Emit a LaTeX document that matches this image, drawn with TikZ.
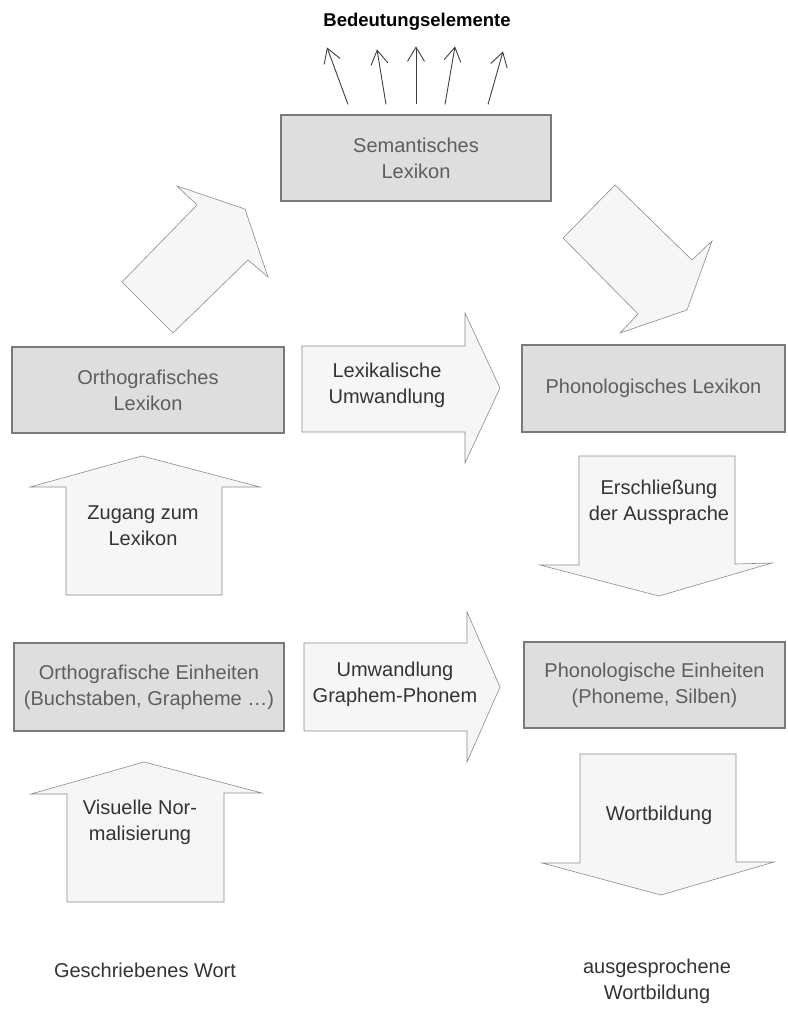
\documentclass[tikz,border=0pt]{standalone}
\usepackage{fontspec}
\setmainfont{Liberation Sans}
\usepackage{tikz}
\usetikzlibrary{arrows.meta,calc}
\definecolor{boxfill}{HTML}{DEDEDE}
\definecolor{boxline}{HTML}{7A7A7A}
\definecolor{boxtext}{HTML}{5E5E5E}
\definecolor{arrfill}{HTML}{F6F6F6}
\definecolor{arrline}{HTML}{8C8C8C}
\tikzset{box/.style={draw=boxline,line width=1.1pt,fill=boxfill,align=center,inner sep=0pt,text=boxtext},
  blockarr/.style={draw=arrline,line width=0.6pt,fill=arrfill,line join=miter},
  lbl/.style={align=center,text=black!80,inner sep=0pt},
  thinarr/.style={-{Straight Barb[length=14pt,width=17pt]},line width=0.9pt,black!75}}

\begin{document}
\begin{tikzpicture}[x=1pt,y=-1pt,font=\fontsize{20}{26}\selectfont]
\useasboundingbox (0,0) rectangle (787,1009);
% boxes
\node[box,minimum width=270pt,minimum height=86pt] (sem) at (416,158) {Semantisches\\Lexikon};
\node[box,minimum width=272pt,minimum height=86pt] (ortholex) at (148,390) {Orthografisches\\Lexikon};
\node[box,minimum width=263pt,minimum height=87pt] (phonlex) at (653.5,388.5) {Phonologisches Lexikon};
\node[box,minimum width=270pt,minimum height=88pt] (orthoein) at (149,687) {Orthografische Einheiten\\(Buchstaben, Grapheme \dots)};
\node[box,minimum width=261pt,minimum height=86pt] (phonein) at (654.5,685) {Phonologische Einheiten\\(Phoneme, Silben)};
% block arrows
\draw[blockarr] (245,209) -- (177,186) -- (197,205) -- (122,282) -- (173,333) -- (248,260) -- (268,277) -- cycle;
\draw[blockarr] (615,185) -- (563,238) -- (638,314) -- (620,333) -- (687,310) -- (712,241) -- (692,260) -- cycle;
\draw[blockarr] (302,346) -- (465,346) -- (465,313) -- (500,388) -- (465,463) -- (465,432) -- (302,432) -- cycle;
\draw[blockarr] (304,643) -- (467,643) -- (467,612) -- (500,687) -- (467,762) -- (467,731) -- (304,731) -- cycle;
\draw[blockarr] (66,595) -- (66,487) -- (30,487) -- (142,456) -- (260,487) -- (222,487) -- (222,595) -- cycle;
\draw[blockarr] (67,902) -- (67,794) -- (31,794) -- (144,762) -- (262,793) -- (224,793) -- (224,902) -- cycle;
\draw[blockarr] (579,456) -- (735,456) -- (735,564) -- (772,563) -- (659,596) -- (540,565) -- (579,565) -- cycle;
\draw[blockarr] (580,754) -- (736,754) -- (736,862) -- (774,862) -- (661,895) -- (542,863) -- (580,863) -- cycle;
% labels
\node[lbl] (lexum) at (387,385) {Lexikalische\\Umwandlung};
\node[lbl] (graphum) at (395,684) {Umwandlung\\Graphem-Phonem};
\node[lbl] (zugang) at (143,526) {Zugang zum\\Lexikon};
\node[lbl] (visnorm) at (140,822) {Visuelle Nor-\\malisierung};
\node[lbl] (ausspr) at (659,502) {Erschließung\\der Aussprache};
\node[lbl] (wortb) at (659,815) {Wortbildung};
\node[lbl] (geschr) at (145,970) {Geschriebenes Wort};
\node[lbl] (ausgespr) at (657,981) {ausgesprochene\\Wortbildung};
\node[lbl,text=black,font=\fontsize{18.5}{22}\selectfont\bfseries] (bed) at (417,22) {Bedeutungselemente};
% meaning arrows
\foreach \sx/\tx/\ty in {-68/-89/-67,-30/-39/-65,0/0/-68,29/39/-68,72/87/-63}
  \draw[thinarr] ($(sem.north)+(\sx,-10)$) -- ($(sem.north)+(\tx,\ty)$);
\end{tikzpicture}
\end{document}
